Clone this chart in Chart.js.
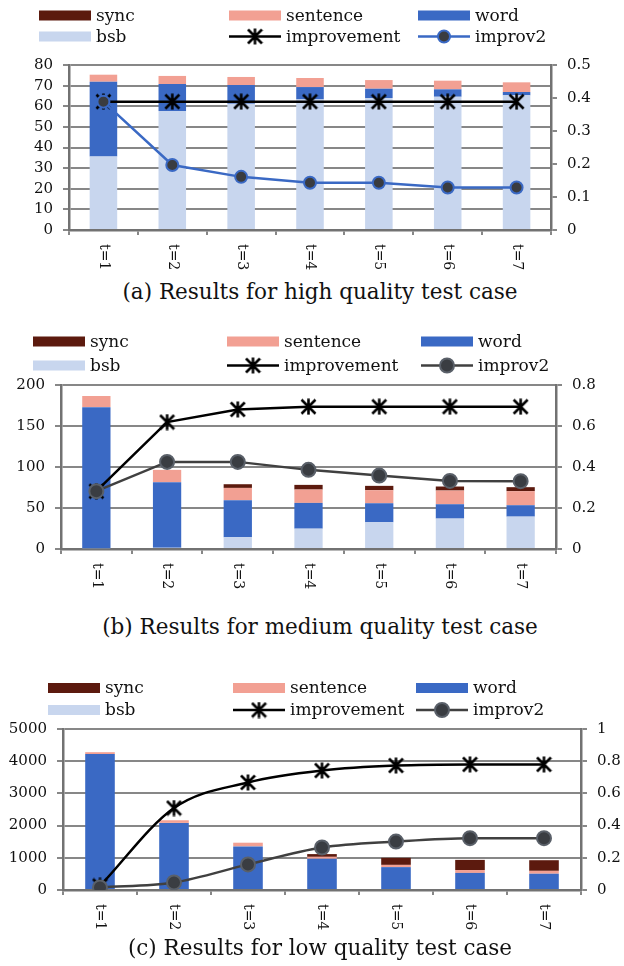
<!DOCTYPE html>
<html>
<head>
<meta charset="utf-8">
<script src="https://cdn.jsdelivr.net/npm/chart.js@4.4.0/dist/chart.umd.min.js"></script>
<style>
  body { margin: 0; background: #fff; width: 624px; height: 966px; position: relative; overflow: hidden; }
  canvas { position: absolute; left: 0; }
  .cap { position: absolute; left: 0; width: 640px; text-align: center; font-family: 'DejaVu Serif'; font-size: 21.5px; color: #111; line-height: 24px; }
</style>
</head>
<body>
<canvas id="chartA"></canvas>
<div class="cap" style="top:280px">(a) Results for high quality test case</div>
<canvas id="chartB"></canvas>
<div class="cap" style="top:615px">(b) Results for medium quality test case</div>
<canvas id="chartC"></canvas>
<div class="cap" style="top:936px">(c) Results for low quality test case</div>

<script>
const labels = ['t=1', 't=2', 't=3', 't=4', 't=5', 't=6', 't=7'];

// (a) high quality
const syncA = [0, 0, 0, 0, 0, 0, 0];
const sentenceA = [3.4, 3.9, 3.9, 4.4, 4.2, 4.2, 4.7];
const wordA = [36.3, 13.1, 9.1, 6.0, 4.5, 3.6, 1.6];
const bsbA = [35.6, 57.7, 61.2, 63.3, 64.0, 64.6, 65.3];
const improvementA = [0.389, 0.389, 0.389, 0.389, 0.389, 0.389, 0.389];
const improv2A = [0.389, 0.197, 0.161, 0.143, 0.143, 0.129, 0.129];
const leftTicksA = [0, 10, 20, 30, 40, 50, 60, 70, 80];
const rightTicksA = [0, 0.1, 0.2, 0.3, 0.4, 0.5];

// (b) medium quality
const syncB = [0, 0, 4.5, 5.7, 5.3, 4.9, 4.9];
const sentenceB = [13.6, 15, 15, 16.3, 15.9, 16.7, 17.1];
const wordB = [172, 80, 45.2, 31.4, 23.2, 17.5, 13.9];
const bsbB = [1, 1.5, 14.3, 24.8, 32.6, 37.1, 39.5];
const improvementB = [0.282, 0.619, 0.681, 0.694, 0.694, 0.694, 0.694];
const improv2B = [0.282, 0.425, 0.425, 0.386, 0.358, 0.332, 0.331];
const leftTicksB = [0, 50, 100, 150, 200];
const rightTicksB = [0, 0.2, 0.4, 0.6, 0.8];

// (c) low quality
const syncC = [0, 0, 0, 85, 220, 315, 330];
const sentenceC = [60, 82, 115, 60, 70, 90, 90];
const wordC = [4220, 2084, 1354, 970, 710, 530, 505];
const bsbC = [0, 0, 0, 0, 0, 0, 0];
const improvementC = [0.025, 0.509, 0.668, 0.742, 0.773, 0.78, 0.78];
const improv2C = [0.016, 0.047, 0.159, 0.264, 0.301, 0.322, 0.322];
const leftTicksC = [0, 1000, 2000, 3000, 4000, 5000];
const rightTicksC = [0, 0.2, 0.4, 0.6, 0.8, 1];

const gridColor = '#878787';
const axisColor = '#727272';
const textColor = '#111';
const serif = 'DejaVu Serif';

// excel-like star marker: an X plus a vertical bar
function makeStar(size, lw) {
  const c = document.createElement('canvas');
  c.width = c.height = size;
  const g = c.getContext('2d');
  const m = size / 2, h = size / 2 - 1.5;
  g.strokeStyle = '#000';
  g.lineWidth = lw;
  g.beginPath();
  g.moveTo(m - h, m - h); g.lineTo(m + h, m + h);
  g.moveTo(m + h, m - h); g.lineTo(m - h, m + h);
  g.moveTo(m, m - h - 1); g.lineTo(m, m + h + 1);
  g.stroke();
  return c;
}
const star = makeStar(17, 2.6);

const gridLegend = {
  id: 'gridLegend',
  afterDraw(chart, args, o) {
    const ctx = chart.ctx;
    ctx.save();
    ctx.font = '17px "' + serif + '"';
    ctx.textBaseline = 'middle';
    o.order.forEach((name, i) => {
      const ds = chart.data.datasets.find(d => d.label === name);
      const x = o.cols[i % 3], y = o.rows[Math.floor(i / 3)];
      if (ds.type === 'bar') {
        ctx.fillStyle = ds.backgroundColor;
        ctx.fillRect(x, y - 5, 52, 10);
      } else {
        ctx.strokeStyle = ds.borderColor;
        ctx.lineWidth = ds.borderWidth;
        ctx.beginPath(); ctx.moveTo(x, y); ctx.lineTo(x + 52, y); ctx.stroke();
        if (ds.pointStyle === 'circle') {
          ctx.beginPath();
          ctx.arc(x + 26, y, ds.pointRadius, 0, Math.PI * 2);
          ctx.fillStyle = ds.pointBackgroundColor; ctx.fill();
          ctx.lineWidth = ds.pointBorderWidth; ctx.strokeStyle = ds.pointBorderColor; ctx.stroke();
        } else {
          ctx.drawImage(ds.pointStyle, x + 26 - star.width / 2, y - star.height / 2);
        }
      }
      ctx.fillStyle = textColor;
      ctx.fillText(name, x + 57, y + 1);
    });
    ctx.restore();
  }
};

// category labels rotated clockwise, reading top to bottom
const xLabels = {
  id: 'xLabels',
  afterDraw(chart) {
    const xs = chart.scales.x, ctx = chart.ctx;
    ctx.save();
    ctx.font = '14px "' + serif + '"';
    ctx.fillStyle = textColor;
    ctx.textAlign = 'left';
    ctx.textBaseline = 'middle';
    chart.data.labels.forEach((l, i) => {
      ctx.save();
      ctx.translate(xs.getPixelForValue(i), xs.top + 14);
      ctx.rotate(Math.PI / 2);
      ctx.fillText(l, 0, 0);
      ctx.restore();
    });
    ctx.restore();
  }
};

function buildPanel(id, p) {
  const canvas = document.getElementById(id);
  canvas.width = 624;
  canvas.height = p.canvasH;
  canvas.style.top = p.canvasTop + 'px';
  const top = p.canvasTop;
  const curve = p.smooth ? 'monotone' : 'default';

  const datasets = [
    { type: 'line', label: 'improv2', data: p.improv2, yAxisID: 'y1', order: 0,
      borderColor: p.i2Line, borderWidth: 2.5, pointStyle: 'circle', pointRadius: p.i2R,
      pointBackgroundColor: p.i2Fill, pointBorderColor: p.i2Border, pointBorderWidth: 2,
      cubicInterpolationMode: curve },
    { type: 'line', label: 'improvement', data: p.improvement, yAxisID: 'y1', order: 1,
      borderColor: '#000', borderWidth: 2.5, pointStyle: star, pointRadius: 8,
      cubicInterpolationMode: curve },
    { type: 'bar', label: 'bsb', data: p.bsb, backgroundColor: '#c8d6ee', yAxisID: 'y', order: 2 },
    { type: 'bar', label: 'word', data: p.word, backgroundColor: '#3a69c4', yAxisID: 'y', order: 2 },
    { type: 'bar', label: 'sentence', data: p.sentence, backgroundColor: '#f2a093', yAxisID: 'y', order: 2 },
    { type: 'bar', label: 'sync', data: p.sync, backgroundColor: '#5c1a0e', yAxisID: 'y', order: 2 }
  ];

  const tickCfg = { font: { family: serif, size: 15 }, color: textColor, padding: 10, autoSkip: false,
    callback: v => String(+v.toFixed(2)) };

  return new Chart(canvas, {
    type: 'bar',
    data: { labels: labels, datasets: datasets },
    plugins: [gridLegend, xLabels],
    options: {
      responsive: false,
      animation: false,
      events: [],
      datasets: { bar: { barPercentage: 0.4, categoryPercentage: 1, borderWidth: 0 } },
      layout: { padding: { top: p.area.top - top, left: 0, right: 0, bottom: 0 } },
      plugins: {
        legend: { display: false },
        tooltip: { enabled: false },
        gridLegend: {
          order: ['sync', 'sentence', 'word', 'bsb', 'improvement', 'improv2'],
          cols: p.legendCols,
          rows: p.legendRows.map(r => r - top)
        }
      },
      scales: {
        x: {
          stacked: true,
          grid: { drawOnChartArea: false, drawTicks: true, tickLength: 5, color: gridColor, lineWidth: 2 },
          border: { color: axisColor, width: 2.5 },
          ticks: { display: false },
          afterFit: s => { s.height = top + p.canvasH - p.area.bottom; }
        },
        y: {
          stacked: true,
          position: 'left',
          min: p.leftTicks[0],
          max: p.leftTicks[p.leftTicks.length - 1],
          ticks: Object.assign({ stepSize: p.leftTicks[1] - p.leftTicks[0] }, tickCfg),
          grid: { color: gridColor, lineWidth: 2, tickLength: 6 },
          border: { color: axisColor, width: 2.5 },
          afterFit: s => { s.width = p.area.left; }
        },
        y1: {
          position: 'right',
          min: p.rightTicks[0],
          max: p.rightTicks[p.rightTicks.length - 1],
          ticks: Object.assign({ stepSize: p.rightTicks[1] - p.rightTicks[0] }, tickCfg),
          grid: { drawOnChartArea: false, color: gridColor, lineWidth: 2, tickLength: 6 },
          border: { color: axisColor, width: 2.5 },
          afterFit: s => { s.width = 624 - p.area.right; }
        }
      }
    }
  });
}

buildPanel('chartA', {
  canvasTop: 0, canvasH: 276,
  area: { left: 69, right: 551, top: 65, bottom: 230 },
  legendCols: [39, 229, 418], legendRows: [15.5, 36.5],
  sync: syncA, sentence: sentenceA, word: wordA, bsb: bsbA,
  improvement: improvementA, improv2: improv2A,
  leftTicks: leftTicksA, rightTicks: rightTicksA,
  i2Line: '#3a69c4', i2Fill: '#3a3c40', i2Border: '#3a69c4', i2R: 6, smooth: false
});

buildPanel('chartB', {
  canvasTop: 320, canvasH: 285,
  area: { left: 61, right: 556, top: 385, bottom: 549 },
  legendCols: [33, 227, 421], legendRows: [341.5, 365.5],
  sync: syncB, sentence: sentenceB, word: wordB, bsb: bsbB,
  improvement: improvementB, improv2: improv2B,
  leftTicks: leftTicksB, rightTicks: rightTicksB,
  i2Line: '#404040', i2Fill: '#3a3d42', i2Border: '#5a6069', i2R: 7, smooth: false
});

buildPanel('chartC', {
  canvasTop: 670, canvasH: 266,
  area: { left: 63, right: 581, top: 729, bottom: 890 },
  legendCols: [48, 233, 416], legendRows: [688, 710],
  sync: syncC, sentence: sentenceC, word: wordC, bsb: bsbC,
  improvement: improvementC, improv2: improv2C,
  leftTicks: leftTicksC, rightTicks: rightTicksC,
  i2Line: '#404040', i2Fill: '#3a3d42', i2Border: '#5a6069', i2R: 7, smooth: true
});
</script>
</body>
</html>
